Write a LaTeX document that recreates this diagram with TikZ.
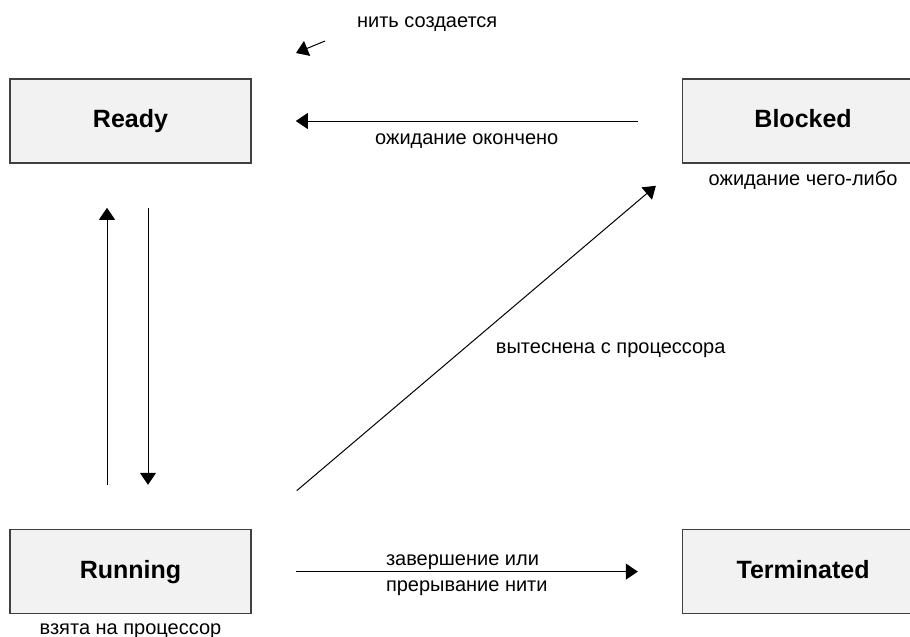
\documentclass[tikz,border=0pt]{standalone}
\usepackage{fontspec}
\setmainfont{Liberation Sans}
\usetikzlibrary{arrows.meta,positioning}
\definecolor{boxgray}{HTML}{F2F2F2}
\definecolor{edgegray}{HTML}{404040}

\begin{document}
\begin{tikzpicture}[x=0.5pt, y=-0.5pt, >={Triangle[length=6pt,width=8pt]},
      every node/.style={font=\fontsize{10}{13}\selectfont},
      statebox/.style={draw=edgegray, line width=0.8pt, fill=boxgray,
            minimum width=120.5pt, minimum height=42pt, text height=9pt, text depth=2.6pt,
            font=\fontsize{12.5}{15}\selectfont\bfseries},
      gap/.style={shorten <=22pt, shorten >=22pt}]
      \useasboundingbox (0,0) rectangle (910,637);
      \clip (0,0) rectangle (910,637);
      % states
      \node[statebox] (ready) at (130.5,121) {Ready};
      \node[statebox, right=215pt of ready] (blocked) {Blocked};
      \node[statebox, below=182.5pt of ready] (running) {Running};
      \node[statebox, right=215pt of running] (term) {Terminated};
      \node[below=0pt of blocked] (waitlbl) {ожидание чего-либо};
      \node[below=1pt of running] (cpulbl) {взята на процессор};
      % new thread
      \node[anchor=west] (newlbl) at (350,24) {нить создается};
      \coordinate (born) at (325,41);
      \coordinate (bornend) at (296,53);
      \draw[->, line width=0.5pt] (born) -- (bornend);
      % transitions
      \draw[->, gap, line width=0.5pt] (blocked) -- node[below=3pt]{ожидание окончено} (ready);
      \draw[->, gap, line width=0.5pt] ([xshift=-11.75pt]running.north) -- ([xshift=-11.75pt]ready.south);
      \draw[->, gap, line width=0.5pt] ([xshift=8.75pt]ready.south) -- ([xshift=8.75pt]running.north);
      \draw[->, shorten <=29.5pt, shorten >=17pt, line width=0.5pt] (running.north east) --
            node[right=11pt, yshift=-2pt]{вытеснена с процессора} (blocked.south west);
      \draw[->, gap, line width=0.5pt] (running) --
            node[align=left, yshift=-2pt]{завершение или\\прерывание нити} (term);
\end{tikzpicture}
\end{document}
